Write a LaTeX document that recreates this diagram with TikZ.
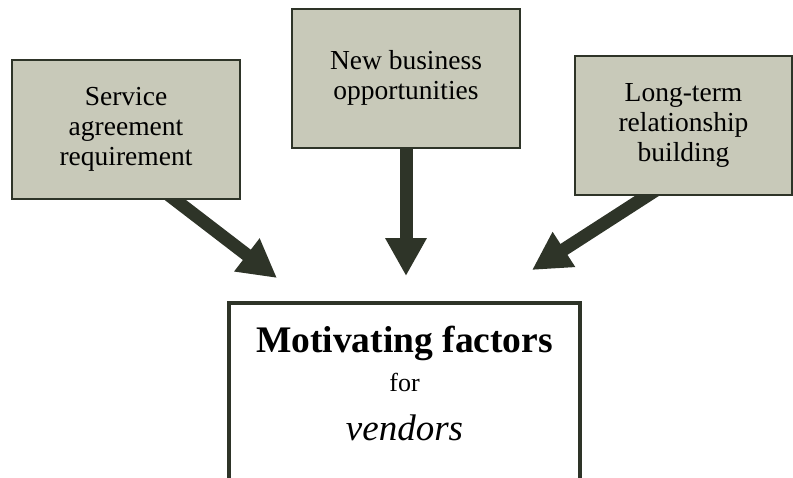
\documentclass[tikz,border=0pt]{standalone}
\usepackage{fontspec}
\setmainfont{Liberation Serif}
\usetikzlibrary{arrows.meta,backgrounds}
\definecolor{factorfill}{RGB}{200,201,185}
\definecolor{darkolive}{RGB}{46,52,40}

\begin{document}
\begin{tikzpicture}[x=1pt,y=-1pt,
	factor/.style={draw=darkolive,fill=factorfill,line width=2pt,align=center,inner sep=0pt,minimum height=139pt,font=\fontsize{27.5}{30}\selectfont},
	mainbox/.style={draw=darkolive,fill=white,line width=3.5pt,minimum width=351pt,minimum height=250pt,anchor=north,inner sep=0pt},
	pusharrow/.style={darkolive,line width=13pt,shorten <=-12pt,-{Triangle[length=38pt,width=39pt]}}]
	\useasboundingbox (0,0) rectangle (793,477);
	\clip (0,0) rectangle (793,477);
	\node[factor,minimum width=228pt] (service) at (126,129.5) {Service\\agreement\\requirement};
	\node[factor,minimum width=228pt] (business) at (406,78) {New business\\opportunities};
	\node[factor,minimum width=217pt] (longterm) at (683.5,125) {Long-term\\relationship\\building};
	\node[mainbox] (motiv) at (404.5,301) {};
	\node[anchor=base,font=\fontsize{37.5}{40}\bfseries] (title) at (404.5,352) {Motivating factors};
	\node[anchor=base,font=\fontsize{26}{28}\selectfont] (forword) at (404.5,391) {for};
	\node[anchor=base,font=\fontsize{37}{40}\itshape] (vendors) at (404.5,440) {vendors};
	\coordinate (tipservice) at (277,278);
	\coordinate (tipbusiness) at (406,276);
	\coordinate (tiplongterm) at (532,270);
	\begin{scope}[on background layer]
		\draw[pusharrow] (service.-55) -- (tipservice);
		\draw[pusharrow] (business.south) -- (tipbusiness);
		\draw[pusharrow] (longterm.-117) -- (tiplongterm);
	\end{scope}
\end{tikzpicture}
\end{document}
